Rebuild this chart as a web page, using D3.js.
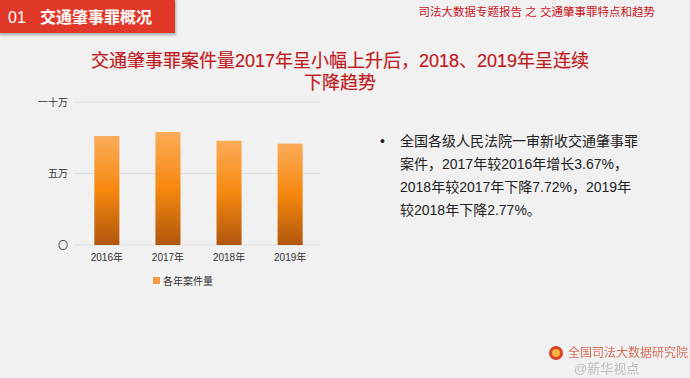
<!DOCTYPE html>
<html>
<head>
<meta charset="utf-8">
<script src="https://cdn.jsdelivr.net/npm/d3@7"></script>
<style>
  body { margin: 0; background: #f1f1f1; }
  svg { display: block; font-family: "Liberation Sans", "Noto Sans CJK SC", sans-serif; }
</style>
</head>
<body>
<div class="chart"></div>
<script>
// data
var years = ["2016年", "2017年", "2018年", "2019年"];
var cases = [76200, 79000, 72900, 70880];
var tickValues = [0, 50000, 100000];
var tickLabels = ["〇", "五万", "一十万"];
var seriesName = "各年案件量";
var titleLines = ["交通肇事罪案件量2017年呈小幅上升后，2018、2019年呈连续", "下降趋势"];
var noteLines = [
  "全国各级人民法院一审新收交通肇事罪",
  "案件，2017年较2016年增长3.67%，",
  "2018年较2017年下降7.72%，2019年",
  "较2018年下降2.77%。"
];

var svgWidth = 690;
var svgHeight = 378;

var svg = d3.select(".chart")
  .append("svg")
  .attr("width", svgWidth)
  .attr("height", svgHeight);

svg.append("rect")
  .attr("width", svgWidth)
  .attr("height", svgHeight)
  .attr("fill", "#f1f1f1");

var defs = svg.append("defs");
var grad = defs.append("linearGradient")
  .attr("id", "barGrad")
  .attr("x1", 0).attr("y1", 0).attr("x2", 0).attr("y2", 1);
grad.append("stop").attr("offset", "0%").attr("stop-color", "#fbac58");
grad.append("stop").attr("offset", "50%").attr("stop-color", "#f6880f");
grad.append("stop").attr("offset", "100%").attr("stop-color", "#b0560c");

var shadow = defs.append("filter").attr("id", "shadow")
  .attr("x", "-10%").attr("y", "-10%").attr("width", "130%").attr("height", "150%");
shadow.append("feDropShadow")
  .attr("dx", 1).attr("dy", 2).attr("stdDeviation", 1.5)
  .attr("flood-color", "#000").attr("flood-opacity", 0.3);

// header box
svg.append("rect")
  .attr("x", -2).attr("y", -2)
  .attr("width", 177).attr("height", 35)
  .attr("fill", "#e2392b")
  .attr("filter", "url(#shadow)");

svg.append("text")
  .attr("x", 8).attr("y", 23)
  .attr("fill", "#fff")
  .style("font-size", "16px")
  .text("01");

svg.append("text")
  .attr("x", 40).attr("y", 23)
  .attr("fill", "#fff")
  .style("font-size", "16px")
  .style("font-weight", "bold")
  .text("交通肇事罪概况");

svg.append("text")
  .attr("x", 655).attr("y", 16)
  .attr("text-anchor", "end")
  .attr("fill", "#c8161d")
  .style("font-size", "11.5px")
  .text("司法大数据专题报告 之 交通肇事罪特点和趋势");

// title
svg.append("g").selectAll("text")
  .data(titleLines)
  .enter()
  .append("text")
  .attr("x", 340)
  .attr("y", (d, i) => 67 + i * 22)
  .attr("text-anchor", "middle")
  .attr("fill", "#bf1a1f")
  .attr("stroke", "#bf1a1f")
  .attr("stroke-width", 0.2)
  .style("font-size", "18px")
  .text(d => d);

// chart
var xScale = d3.scaleBand()
  .domain(years)
  .range([76, 321])
  .paddingInner(0.59)
  .paddingOuter(0.3);

var yScale = d3.scaleLinear()
  .domain([0, 100000])
  .range([245, 102]);

var gridGroup = svg.append("g");
gridGroup.selectAll("line")
  .data(tickValues)
  .enter()
  .append("line")
  .attr("x1", 74)
  .attr("x2", 320)
  .attr("y1", d => yScale(d))
  .attr("y2", d => yScale(d))
  .attr("stroke", "#dedede")
  .attr("stroke-width", 1);

var yAxis = d3.axisLeft(yScale)
  .tickValues(tickValues)
  .tickFormat((d, i) => tickLabels[i])
  .tickSize(0)
  .tickPadding(0);

var yAxisGroup = svg.append("g")
  .attr("transform", "translate(68,0)")
  .call(yAxis);
yAxisGroup.select(".domain").remove();
yAxisGroup.selectAll("text")
  .style("font-size", "10px")
  .style("font-family", "'Liberation Sans', 'Noto Sans CJK SC', sans-serif")
  .attr("fill", "#333");

svg.append("g").selectAll("rect")
  .data(cases)
  .enter()
  .append("rect")
  .attr("x", (d, i) => xScale(years[i]))
  .attr("y", d => yScale(d))
  .attr("width", xScale.bandwidth())
  .attr("height", d => yScale(0) - yScale(d))
  .attr("fill", "url(#barGrad)");

var xAxis = d3.axisBottom(xScale).tickSize(0).tickPadding(9);
var xAxisGroup = svg.append("g")
  .attr("transform", "translate(0,245)")
  .call(xAxis);
xAxisGroup.select(".domain").remove();
xAxisGroup.selectAll("text")
  .style("font-size", "10px")
  .style("font-family", "'Liberation Sans', 'Noto Sans CJK SC', sans-serif")
  .attr("fill", "#333");

// legend
svg.append("rect")
  .attr("x", 153).attr("y", 277)
  .attr("width", 7).attr("height", 7)
  .attr("fill", "#f09a45");
svg.append("text")
  .attr("x", 163).attr("y", 284.5)
  .attr("fill", "#333")
  .style("font-size", "10px")
  .text(seriesName);

// note text on the right
svg.append("text")
  .attr("x", 380).attr("y", 146)
  .attr("fill", "#222")
  .style("font-size", "14px")
  .text("•");

svg.append("g").selectAll("text")
  .data(noteLines)
  .enter()
  .append("text")
  .attr("x", 400)
  .attr("y", (d, i) => 146 + i * 23)
  .attr("fill", "#222")
  .style("font-size", "14px")
  .text(d => d);

// watermark bottom right
svg.append("circle")
  .attr("cx", 556).attr("cy", 353).attr("r", 7)
  .attr("fill", "#d9412a");
svg.append("circle")
  .attr("cx", 556).attr("cy", 353).attr("r", 4)
  .attr("fill", "#f2b640");
svg.append("text")
  .attr("x", 568).attr("y", 357)
  .attr("fill", "#d2553f")
  .attr("opacity", 0.85)
  .style("font-size", "12px")
  .text("全国司法大数据研究院");
svg.append("text")
  .attr("x", 574).attr("y", 373)
  .attr("fill", "#aaa")
  .attr("opacity", 0.7)
  .style("font-size", "13px")
  .text("@新华视点");
</script>
</body>
</html>
